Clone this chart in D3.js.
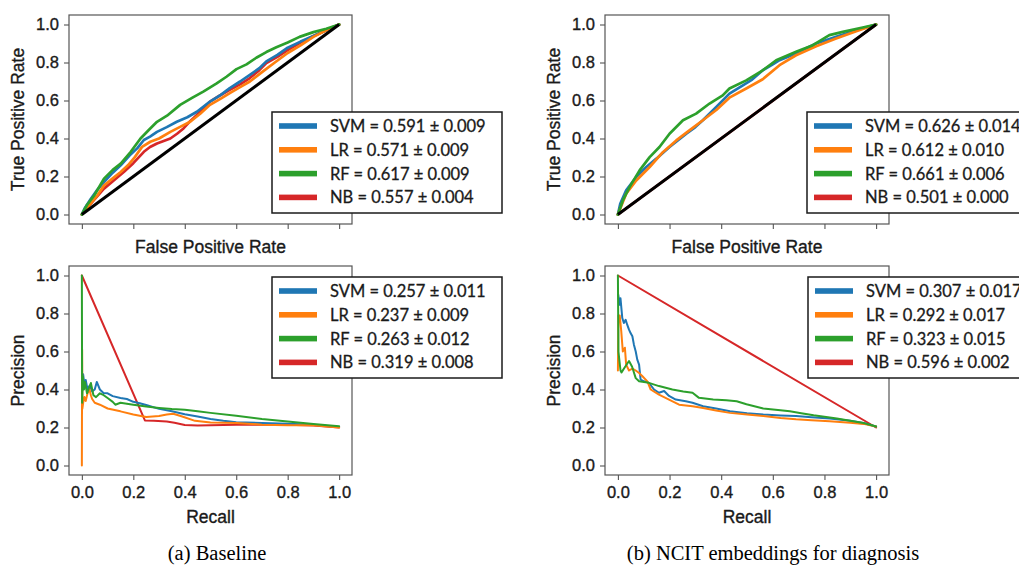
<!DOCTYPE html>
<html>
<head>
<meta charset="utf-8">
<script src="https://cdn.jsdelivr.net/npm/d3@7"></script>
<style>
  html, body { margin: 0; padding: 0; background: #fff; }
  svg { display: block; }
</style>
</head>
<body>
<svg id="fig" width="1019" height="566"></svg>
<script>
// ---- Models and summary scores ----
const models = ["SVM", "LR", "RF", "NB"];
const aucBaseline = [[0.591, 0.009], [0.571, 0.009], [0.617, 0.009], [0.557, 0.004]];
const apBaseline  = [[0.257, 0.011], [0.237, 0.009], [0.263, 0.012], [0.319, 0.008]];
const aucNcit     = [[0.626, 0.014], [0.612, 0.010], [0.661, 0.006], [0.501, 0.000]];
const apNcit      = [[0.307, 0.017], [0.292, 0.017], [0.323, 0.015], [0.596, 0.002]];

const tickValues = [0.0, 0.2, 0.4, 0.6, 0.8, 1.0];
const captions = ["(a) Baseline", "(b) NCIT embeddings for diagnosis"];

// ---- ROC curves, baseline features: [false positive rate, true positive rate] ----
const rocBaseSVM = [[0,0],[0.01,0.03],[0.035,0.083],[0.06,0.13],[0.086,0.171],[0.12,0.22],[0.151,0.259],[0.185,0.31],[0.215,0.348],[0.241,0.392],[0.265,0.41],[0.292,0.435],[0.33,0.46],[0.369,0.488],[0.41,0.512],[0.447,0.541],[0.498,0.594],[0.54,0.63],[0.575,0.665],[0.615,0.70],[0.653,0.735],[0.69,0.77],[0.717,0.806],[0.76,0.84],[0.8,0.878],[0.85,0.91],[0.9,0.94],[0.95,0.97],[1,1]];
const rocBaseLR  = [[0,0],[0.03,0.05],[0.06,0.10],[0.086,0.153],[0.12,0.19],[0.151,0.224],[0.18,0.26],[0.202,0.295],[0.234,0.356],[0.266,0.383],[0.3,0.40],[0.344,0.435],[0.38,0.46],[0.421,0.488],[0.46,0.53],[0.498,0.577],[0.54,0.61],[0.575,0.639],[0.615,0.67],[0.653,0.70],[0.704,0.753],[0.75,0.80],[0.8,0.85],[0.85,0.89],[0.9,0.935],[0.95,0.97],[1,1]];
const rocBaseRF  = [[0,0],[0.02,0.05],[0.048,0.10],[0.086,0.189],[0.12,0.235],[0.151,0.268],[0.19,0.33],[0.228,0.40],[0.26,0.445],[0.292,0.488],[0.331,0.52],[0.382,0.577],[0.43,0.615],[0.472,0.647],[0.524,0.69],[0.562,0.725],[0.601,0.765],[0.64,0.79],[0.678,0.825],[0.717,0.855],[0.756,0.88],[0.8,0.905],[0.846,0.935],[0.9,0.96],[0.95,0.978],[1,1]];
const rocBaseNB  = [[0,0],[0.04,0.065],[0.086,0.136],[0.125,0.18],[0.163,0.224],[0.2,0.27],[0.241,0.33],[0.265,0.355],[0.292,0.374],[0.344,0.40],[0.37,0.425],[0.395,0.453],[0.42,0.49],[0.447,0.524],[0.498,0.594],[0.535,0.625],[0.575,0.656],[0.615,0.685],[0.653,0.718],[0.69,0.76],[0.717,0.797],[0.76,0.83],[0.8,0.865],[0.85,0.905],[0.9,0.94],[0.95,0.97],[1,1]];

// ---- ROC curves, NCIT embeddings ----
const rocNcitSVM = [[0,0],[0.009,0.056],[0.032,0.127],[0.071,0.197],[0.11,0.25],[0.149,0.294],[0.2,0.355],[0.265,0.425],[0.3,0.46],[0.329,0.496],[0.381,0.566],[0.432,0.636],[0.484,0.68],[0.52,0.71],[0.561,0.759],[0.6,0.79],[0.626,0.812],[0.69,0.847],[0.73,0.875],[0.768,0.90],[0.845,0.935],[0.923,0.97],[1,1]];
const rocNcitLR  = [[0,0],[0.032,0.109],[0.071,0.179],[0.123,0.25],[0.174,0.328],[0.226,0.39],[0.277,0.443],[0.329,0.496],[0.381,0.55],[0.432,0.615],[0.497,0.663],[0.561,0.712],[0.626,0.786],[0.69,0.838],[0.768,0.885],[0.845,0.926],[0.923,0.965],[1,1]];
const rocNcitRF  = [[0,0],[0.019,0.074],[0.045,0.144],[0.084,0.232],[0.123,0.302],[0.161,0.355],[0.2,0.425],[0.252,0.496],[0.303,0.531],[0.355,0.584],[0.406,0.627],[0.432,0.663],[0.497,0.706],[0.561,0.759],[0.613,0.812],[0.69,0.856],[0.755,0.891],[0.819,0.944],[0.871,0.961],[0.948,0.984],[1,1]];
const rocNcitNB  = [[0,0],[1,1]];

const chanceLine = [[0,0],[1,1]];

// ---- Precision-recall curves, baseline features: [recall, precision] ----
const prBaseSVM = [[0.002,0.40],[0.005,0.48],[0.01,0.42],[0.015,0.45],[0.022,0.40],[0.03,0.42],[0.04,0.39],[0.05,0.40],[0.058,0.44],[0.07,0.40],[0.084,0.382],[0.1,0.38],[0.12,0.365],[0.15,0.355],[0.175,0.35],[0.2,0.335],[0.225,0.328],[0.25,0.318],[0.3,0.298],[0.35,0.285],[0.4,0.27],[0.45,0.258],[0.5,0.245],[0.55,0.235],[0.6,0.228],[0.7,0.224],[0.8,0.22],[0.9,0.215],[1,0.203]];
const prBaseLR  = [[0,0],[0.001,0.61],[0.002,0.30],[0.005,0.33],[0.01,0.36],[0.015,0.34],[0.022,0.38],[0.03,0.40],[0.035,0.37],[0.04,0.35],[0.05,0.33],[0.07,0.32],[0.1,0.30],[0.15,0.285],[0.2,0.268],[0.25,0.255],[0.3,0.26],[0.33,0.268],[0.355,0.272],[0.39,0.258],[0.44,0.235],[0.5,0.226],[0.6,0.224],[0.7,0.215],[0.8,0.212],[0.9,0.212],[1,0.20]];
const prBaseRF  = [[0,1.0],[0.001,0.33],[0.004,0.47],[0.008,0.40],[0.012,0.44],[0.02,0.38],[0.028,0.41],[0.035,0.434],[0.045,0.37],[0.055,0.36],[0.07,0.38],[0.085,0.37],[0.1,0.355],[0.12,0.335],[0.13,0.32],[0.15,0.33],[0.2,0.32],[0.25,0.31],[0.3,0.303],[0.35,0.297],[0.4,0.293],[0.45,0.285],[0.5,0.277],[0.6,0.262],[0.7,0.245],[0.8,0.232],[0.9,0.218],[1,0.207]];
const prBaseNB  = [[0,1.0],[0.245,0.237],[0.28,0.236],[0.33,0.232],[0.36,0.225],[0.4,0.213],[0.45,0.21],[0.5,0.212],[0.6,0.215],[0.7,0.214],[0.8,0.215],[0.9,0.21],[1,0.20]];

// ---- Precision-recall curves, NCIT embeddings ----
const prNcitSVM = [[0.001,0.90],[0.007,0.846],[0.01,0.88],[0.017,0.776],[0.023,0.75],[0.03,0.767],[0.036,0.741],[0.043,0.715],[0.049,0.697],[0.056,0.68],[0.062,0.636],[0.069,0.60],[0.075,0.557],[0.082,0.531],[0.088,0.452],[0.101,0.443],[0.12,0.435],[0.14,0.40],[0.159,0.383],[0.179,0.392],[0.198,0.366],[0.224,0.347],[0.263,0.338],[0.289,0.33],[0.33,0.312],[0.38,0.30],[0.434,0.285],[0.5,0.275],[0.563,0.268],[0.63,0.263],[0.69,0.26],[0.75,0.254],[0.82,0.247],[0.9,0.235],[0.951,0.224],[1,0.205]];
const prNcitLR  = [[0,0.50],[0.002,0.79],[0.007,0.79],[0.013,0.706],[0.019,0.60],[0.027,0.62],[0.032,0.53],[0.043,0.50],[0.056,0.51],[0.069,0.50],[0.082,0.487],[0.095,0.47],[0.114,0.443],[0.127,0.40],[0.159,0.373],[0.198,0.347],[0.237,0.32],[0.289,0.312],[0.33,0.303],[0.38,0.29],[0.434,0.277],[0.5,0.268],[0.563,0.26],[0.63,0.25],[0.69,0.243],[0.75,0.238],[0.82,0.233],[0.9,0.225],[0.951,0.219],[1,0.205]];
const prNcitRF  = [[0,1.0],[0.002,0.60],[0.01,0.50],[0.014,0.49],[0.028,0.52],[0.043,0.55],[0.055,0.52],[0.069,0.46],[0.082,0.443],[0.12,0.435],[0.159,0.418],[0.211,0.40],[0.253,0.39],[0.289,0.383],[0.314,0.356],[0.369,0.347],[0.42,0.343],[0.46,0.338],[0.498,0.322],[0.563,0.30],[0.62,0.292],[0.666,0.285],[0.71,0.275],[0.758,0.264],[0.848,0.247],[0.951,0.224],[1,0.205]];
const prNcitNB  = [[0,1.0],[1,0.2]];

// ---- Styling ----
const modelColors = ["#1f77b4", "#ff7f0e", "#2ca02c", "#d62728"];
const tickFont = "'Liberation Sans', Arial, sans-serif";
const legendFont = "Lato, 'Open Sans', sans-serif";
const inkColor = "#1a1a1a";

const svg = d3.select("#fig");

const panels = [
  { box: [69, 15, 352, 224], kind: "roc", curves: [rocBaseSVM, rocBaseLR, rocBaseRF, rocBaseNB], scores: aucBaseline,
    xLabel: "False Positive Rate", yLabel: "True Positive Rate", legend: [272, 112] },
  { box: [605, 15, 889, 224], kind: "roc", curves: [rocNcitSVM, rocNcitLR, rocNcitRF, rocNcitNB], scores: aucNcit,
    xLabel: "False Positive Rate", yLabel: "True Positive Rate", legend: [807, 112] },
  { box: [69, 266, 352, 475], kind: "pr", curves: [prBaseSVM, prBaseLR, prBaseRF, prBaseNB], scores: apBaseline,
    xLabel: "Recall", yLabel: "Precision", legend: [272, 277] },
  { box: [605, 266, 889, 475], kind: "pr", curves: [prNcitSVM, prNcitLR, prNcitRF, prNcitNB], scores: apNcit,
    xLabel: "Recall", yLabel: "Precision", legend: [808, 277] }
];

const fmt = d3.format(".3f");

// slightly heavier text strokes for the sans-serif labels
function ink(sel, size) {
  sel.attr("font-family", tickFont).attr("font-size", size)
    .attr("fill", inkColor).attr("stroke", inkColor).attr("stroke-width", 0.35);
}

panels.forEach(p => {
  const [x0, y0, x1, y1] = p.box;
  const x = d3.scaleLinear().domain([-0.05, 1.05]).range([x0, x1]);
  const y = d3.scaleLinear().domain([-0.05, 1.05]).range([y1, y0]);
  const g = svg.append("g");

  // plot frame
  g.append("rect")
    .attr("x", x0).attr("y", y0).attr("width", x1 - x0).attr("height", y1 - y0)
    .attr("fill", "#fff").attr("stroke", "#555").attr("stroke-width", 1.2);

  // y axis
  const ya = g.append("g").attr("transform", `translate(${x0},0)`)
    .call(d3.axisLeft(y).tickValues(tickValues).tickFormat(d3.format(".1f")).tickSize(5).tickPadding(5));
  ya.select(".domain").remove();
  ya.selectAll("line").attr("stroke", "#555").attr("stroke-width", 1.1);
  ink(ya.selectAll("text"), 16.5);

  // x axis (top row shows tick marks only)
  const xa = g.append("g").attr("transform", `translate(0,${y1})`)
    .call(d3.axisBottom(x).tickValues(tickValues)
      .tickFormat(p.kind === "roc" ? () => "" : d3.format(".1f")).tickSize(5).tickPadding(6));
  xa.select(".domain").remove();
  xa.selectAll("line").attr("stroke", "#555").attr("stroke-width", 1.1);
  ink(xa.selectAll("text"), 16.5);

  // axis titles
  ink(g.append("text")
    .attr("x", (x0 + x1) / 2).attr("y", p.kind === "roc" ? y1 + 23 : y1 + 42)
    .attr("text-anchor", "middle").attr("dominant-baseline", "central")
    .text(p.xLabel), 17.5);
  ink(g.append("text")
    .attr("transform", `translate(${x0 - 51},${(y0 + y1) / 2}) rotate(-90)`)
    .attr("text-anchor", "middle").attr("dominant-baseline", "central")
    .text(p.yLabel), 17.5);

  // curves: NB underneath, then SVM, LR, RF
  const line = d3.line().x(d => x(d[0])).y(d => y(d[1]));
  const lw = p.kind === "roc" ? 2.7 : 2.0;
  [3, 0, 1, 2].forEach(i => {
    g.append("path").datum(p.curves[i])
      .attr("d", line).attr("fill", "none")
      .attr("stroke", modelColors[i]).attr("stroke-width", lw)
      .attr("stroke-linejoin", "round").attr("stroke-linecap", "round");
  });
  if (p.kind === "roc") {
    g.append("path").datum(chanceLine)
      .attr("d", line).attr("fill", "none")
      .attr("stroke", "#000").attr("stroke-width", 3);
  }

  // legend
  const [lx, ly] = p.legend;
  const lg = g.append("g").attr("transform", `translate(${lx},${ly})`);
  lg.append("rect").attr("x", 0).attr("y", 0).attr("width", 230).attr("height", 101)
    .attr("fill", "#fff").attr("stroke", inkColor).attr("stroke-width", 1.5);
  models.forEach((m, i) => {
    const cy = 14 + i * 23.8;
    lg.append("rect").attr("x", 7).attr("y", cy - 2.8).attr("width", 38).attr("height", 5.6)
      .attr("fill", modelColors[i]);
    lg.append("text").attr("x", 58).attr("y", cy)
      .attr("dominant-baseline", "central")
      .attr("font-family", legendFont).attr("font-size", 16.5)
      .attr("fill", inkColor).attr("stroke", inkColor).attr("stroke-width", 0.3)
      .text(`${m} = ${fmt(p.scores[i][0])} ± ${fmt(p.scores[i][1])}`);
  });
});

// sub-figure captions
[[217, captions[0]], [773, captions[1]]].forEach(([cx, t]) => {
  svg.append("text").attr("x", cx).attr("y", 553)
    .attr("text-anchor", "middle").attr("dominant-baseline", "central")
    .attr("font-family", "'Liberation Serif', 'Times New Roman', serif")
    .attr("font-size", 20.5).attr("fill", "#000")
    .text(t);
});
</script>
</body>
</html>
